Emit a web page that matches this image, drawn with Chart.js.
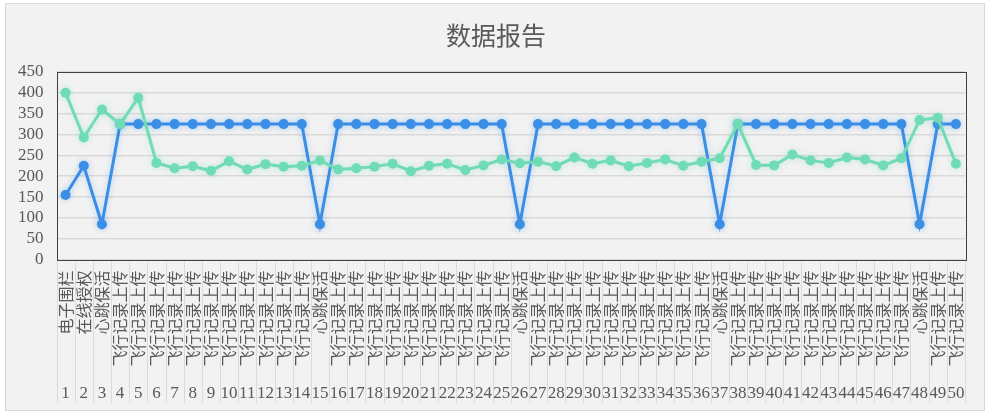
<!DOCTYPE html>
<html>
<head>
  <meta charset="utf-8">
  <title>数据报告</title>
  <script src="https://cdn.jsdelivr.net/npm/chart.js@4.4.1/dist/chart.umd.min.js"></script>
  <style>
    body { margin: 0; background: #ffffff; }
  </style>
</head>
<body>
  <canvas id="reportChart" width="992" height="416"></canvas>

  <script>
    var chartTitle = '数据报告';

    // category names (first row of the x axis)
    var categories = [
      '电子围栏', '在线授权', '心跳保活', '飞行记录上传', '飞行记录上传',
      '飞行记录上传', '飞行记录上传', '飞行记录上传', '飞行记录上传', '飞行记录上传',
      '飞行记录上传', '飞行记录上传', '飞行记录上传', '飞行记录上传', '心跳保活',
      '飞行记录上传', '飞行记录上传', '飞行记录上传', '飞行记录上传', '飞行记录上传',
      '飞行记录上传', '飞行记录上传', '飞行记录上传', '飞行记录上传', '飞行记录上传',
      '心跳保活', '飞行记录上传', '飞行记录上传', '飞行记录上传', '飞行记录上传',
      '飞行记录上传', '飞行记录上传', '飞行记录上传', '飞行记录上传', '飞行记录上传',
      '飞行记录上传', '心跳保活', '飞行记录上传', '飞行记录上传', '飞行记录上传',
      '飞行记录上传', '飞行记录上传', '飞行记录上传', '飞行记录上传', '飞行记录上传',
      '飞行记录上传', '飞行记录上传', '心跳保活', '飞行记录上传', '飞行记录上传'
    ];

    // sequence numbers (second row of the x axis)
    var seqNumbers = [
      '1', '2', '3', '4', '5', '6', '7', '8', '9', '10',
      '11', '12', '13', '14', '15', '16', '17', '18', '19', '20',
      '21', '22', '23', '24', '25', '26', '27', '28', '29', '30',
      '31', '32', '33', '34', '35', '36', '37', '38', '39', '40',
      '41', '42', '43', '44', '45', '46', '47', '48', '49', '50'
    ];

    var blueValues = [
      155, 225, 85, 325, 325, 325, 325, 325, 325, 325,
      325, 325, 325, 325, 85, 325, 325, 325, 325, 325,
      325, 325, 325, 325, 325, 85, 325, 325, 325, 325,
      325, 325, 325, 325, 325, 325, 85, 325, 325, 325,
      325, 325, 325, 325, 325, 325, 325, 85, 325, 325
    ];

    var greenValues = [
      400, 293, 360, 325, 388, 232, 219, 224, 213, 236,
      216, 229, 223, 225, 238, 216, 219, 223, 230, 212,
      225, 230, 215, 226, 240, 231, 235, 224, 245, 230,
      238, 224, 232, 240, 225, 235, 243, 325, 227, 226,
      252, 238, 232, 245, 240, 226, 243, 335, 340, 230
    ];

    var yMin = 0;
    var yMax = 450;
    var yStep = 50;

    Chart.defaults.font.family = "'Liberation Serif', 'Noto Sans CJK SC', serif";
    Chart.defaults.color = '#595959';

    // grey panel with a thin frame behind everything, title centred on the panel
    var framePlugin = {
      id: 'frame',
      beforeDraw: function(chart) {
        var c = chart.ctx;
        c.save();
        c.fillStyle = '#f2f2f2';
        c.fillRect(5, 3, chart.width - 12, chart.height - 8);
        c.strokeStyle = '#d9d9d9';
        c.lineWidth = 1;
        c.strokeRect(5.5, 3.5, chart.width - 13, chart.height - 9);
        c.fillStyle = '#595959';
        c.font = "25px 'Noto Sans CJK SC', sans-serif";
        c.textAlign = 'center';
        c.textBaseline = 'middle';
        c.fillText(chartTitle, chart.width / 2, 35);
        c.restore();
      }
    };

    // dark plot border plus the divider lines between category labels
    var axisBoxPlugin = {
      id: 'axisBox',
      beforeDatasetsDraw: function(chart) {
        var c = chart.ctx;
        var a = chart.chartArea;
        var x = chart.scales.x;
        var x2 = chart.scales.x2;
        c.save();
        c.strokeStyle = '#dadada';
        c.lineWidth = 1;
        for (var i = 0; i <= categories.length; i++) {
          var px;
          if (i === 0) px = a.left;
          else if (i === categories.length) px = a.right;
          else px = (x.getPixelForValue(i - 1) + x.getPixelForValue(i)) / 2;
          px = Math.round(px) + 0.5;
          c.beginPath();
          c.moveTo(px, a.bottom);
          c.lineTo(px, x2.bottom - 7);
          c.stroke();
        }
        c.strokeStyle = '#404040';
        c.strokeRect(Math.round(a.left) + 0.5, Math.round(a.top) + 0.5,
          Math.round(a.right - a.left), Math.round(a.bottom - a.top));
        c.restore();
      }
    };

    // soft glow under each line, like the spreadsheet original
    var glowPlugin = {
      id: 'glow',
      beforeDatasetDraw: function(chart, args) {
        var c = chart.ctx;
        c.save();
        c.shadowColor = args.index === 0 ? 'rgba(58,142,230,0.35)' : 'rgba(112,220,181,0.35)';
        c.shadowBlur = 6;
      },
      afterDatasetDraw: function(chart) {
        chart.ctx.restore();
      }
    };

    var ctx = document.getElementById('reportChart').getContext('2d');

    var reportChart = new Chart(ctx, {
      type: 'line',
      data: {
        labels: categories,
        datasets: [{
          label: '系列1',
          data: blueValues,
          borderColor: '#3a8ee6',
          backgroundColor: '#3a8ee6',
          borderWidth: 3,
          pointRadius: 5,
          pointBorderWidth: 0,
          order: 2
        }, {
          label: '系列2',
          data: greenValues,
          borderColor: '#70dcb5',
          backgroundColor: '#70dcb5',
          borderWidth: 3,
          pointRadius: 5,
          pointBorderWidth: 0,
          order: 1
        }]
      },
      options: {
        responsive: false,
        animation: false,
        layout: {
          padding: { left: 5, right: 27, top: 72, bottom: 6 }
        },
        plugins: {
          legend: { display: false },
          tooltip: { enabled: false },
          title: { display: false }
        },
        scales: {
          y: {
            min: yMin,
            max: yMax,
            ticks: { stepSize: yStep, autoSkip: false, padding: 13, font: { size: 17 }, color: '#595959' },
            grid: { color: '#d9d9d9', lineWidth: 1.5, drawTicks: false },
            border: { display: false }
          },
          x: {
            type: 'category',
            offset: true,
            ticks: {
              autoSkip: false,
              minRotation: 90,
              maxRotation: 90,
              padding: 3,
              font: { size: 16, family: "'Noto Sans CJK SC', sans-serif" },
              color: '#595959'
            },
            grid: { display: false },
            border: { display: false }
          },
          x2: {
            type: 'category',
            position: 'bottom',
            labels: seqNumbers,
            offset: true,
            ticks: {
              autoSkip: false,
              minRotation: 0,
              maxRotation: 0,
              padding: 6,
              font: { size: 17 },
              color: '#595959'
            },
            grid: { display: false },
            border: { display: false }
          }
        }
      },
      plugins: [framePlugin, axisBoxPlugin, glowPlugin]
    });
  </script>
</body>
</html>
